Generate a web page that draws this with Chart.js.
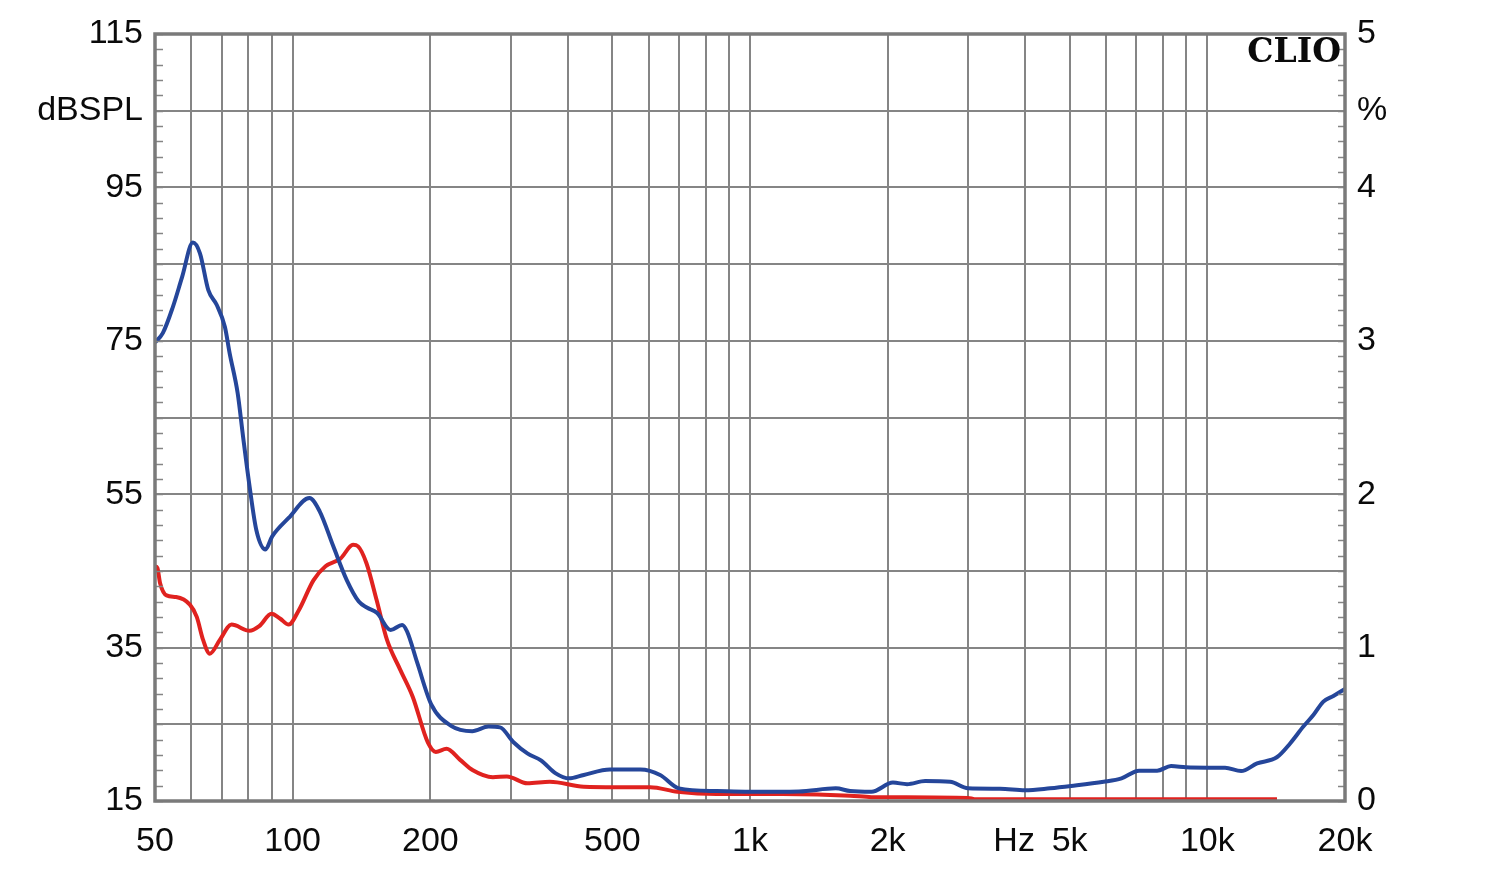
<!DOCTYPE html>
<html><head><meta charset="utf-8">
<script src="https://cdn.jsdelivr.net/npm/chart.js@4"></script>
<style>html,body{margin:0;padding:0;background:#fff;}</style>
</head><body>
<canvas id="c" width="1500" height="870"></canvas>
<script>
// ---- axis ticks / labels ----
const freqTicks = [50,60,70,80,90,100,200,300,400,500,600,700,800,900,1000,2000,3000,4000,5000,6000,7000,8000,9000,10000,20000];
const freqLabels = {50:'50',100:'100',200:'200',500:'500',1000:'1k',2000:'2k',5000:'5k',10000:'10k',20000:'20k'};
const hzLabelFreq = 3780;
const splTicks = [15,25,35,45,55,65,75,85,95,105,115];
const splLabels = {15:'15',35:'35',55:'55',75:'75',95:'95',105:'dBSPL',115:'115'};
const pctTicks = [0,0.5,1,1.5,2,2.5,3,3.5,4,4.5,5];
const pctLabels = {0:'0',1:'1',2:'2',3:'3',4:'4',4.5:'%',5:'5'};

// ---- series: SPL (blue, dB) ----
const splFreq = [50,52,54.7,57.3,60.5,62.7,65.4,68.2,71.1,72.8,75.8,77.9,80.5,83.3,87.2,90.2,98,108.8,114.5,122.7,131.3,139.5,145.6,153,163.7,173.5,177.9,187.3,200.9,222,247,268,284,303.6,326,349,376,402,433,494,576,636,699,846,997,1280,1540,1655,1843,2054,2205,2415,2739,2997,3521,3994,4530,5036,5933,6491,7090,7765,8330,8973,9990,10935,11855,12845,14190,15170,16215,17055,17935,18865,20000];
const splValues = [74.8,76.0,79.4,83.3,87.8,86.4,81.6,79.7,76.8,73.4,68.2,62.5,56.0,50.3,47.8,49.5,51.9,54.5,52.8,48.2,43.8,41.0,40.2,39.5,37.3,37.95,37.1,33.0,27.6,24.8,24.1,24.7,24.6,22.7,21.2,20.3,18.6,17.95,18.4,19.1,19.1,18.4,16.65,16.3,16.2,16.25,16.65,16.3,16.2,17.4,17.2,17.6,17.5,16.65,16.6,16.4,16.65,16.95,17.5,17.95,18.95,18.95,19.55,19.4,19.35,19.35,18.9,19.9,20.7,22.5,24.7,26.2,27.95,28.7,29.6];

// ---- series: THD (red, %) ----
const thdFreq = [50,50.6,51.3,53,55.6,59.6,61.7,63.7,65.9,69.3,73.5,80.5,84.5,89.9,93.8,98,103,111.1,118,127.2,135.5,139,145,152.6,160.8,171.6,183,197.6,205.6,217,232,247.8,274,294,326,365,433,509,605,694,846,1178,1656,1843,2997,3100,14200];
const thdValues = [1.53,1.52,1.42,1.34,1.33,1.28,1.20,1.05,0.96,1.05,1.15,1.11,1.14,1.22,1.19,1.15,1.24,1.44,1.53,1.58,1.67,1.66,1.55,1.31,1.05,0.86,0.68,0.38,0.32,0.34,0.27,0.20,0.155,0.16,0.115,0.125,0.093,0.09,0.09,0.06,0.045,0.045,0.035,0.025,0.02,0.012,0.012];

const gridColor = '#858585';
const textColor = '#0a0a0a';
const labelFont = {family:'"Liberation Sans", Arial, sans-serif', size:34};

const framePlugin = {
  id:'frame',
  afterDatasetsDraw(chart){
    const ctx = chart.ctx, a = chart.chartArea;
    const y = chart.scales.y, y2 = chart.scales.y2;
    ctx.save();
    ctx.strokeStyle = gridColor; ctx.lineWidth = 1.5;
    // minor ticks every 2 dB on left, every 0.1 % on right
    for (let v = 15; v <= 115; v += 2) {
      const py = Math.round(y.getPixelForValue(v)) + 0.5;
      ctx.beginPath(); ctx.moveTo(a.left, py); ctx.lineTo(a.left + 8, py); ctx.stroke();
    }
    for (let i = 0; i <= 50; i++) {
      const py = Math.round(y2.getPixelForValue(i / 10)) + 0.5;
      ctx.beginPath(); ctx.moveTo(a.right, py); ctx.lineTo(a.right - 7, py); ctx.stroke();
    }
    ctx.strokeStyle = '#7a7a7a'; ctx.lineWidth = 3.5;
    ctx.strokeRect(a.left, a.top, a.right - a.left, a.bottom - a.top);
    // CLIO logo
    ctx.fillStyle = '#0a0a0a';
    ctx.font = 'bold 33px "DejaVu Serif", "Liberation Serif", serif';
    ctx.textAlign = 'right'; ctx.textBaseline = 'middle';
    ctx.fillText('CLIO', a.right - 4, a.top + 19);
    ctx.restore();
  }
};

new Chart(document.getElementById('c'), {
  type:'line',
  data:{
    datasets:[
      { label:'SPL', yAxisID:'y', data: splFreq.map((f,i)=>({x:f,y:splValues[i]})),
        borderColor:'#25469a', borderWidth:4, pointRadius:0, tension:0.35, cubicInterpolationMode:'monotone', fill:false },
      { label:'THD', yAxisID:'y2', data: thdFreq.map((f,i)=>({x:f,y:thdValues[i]})),
        borderColor:'#e0221f', borderWidth:4, pointRadius:0, tension:0.35, cubicInterpolationMode:'monotone', fill:false }
    ]
  },
  options:{
    responsive:false, animation:false, devicePixelRatio:1,
    layout:{padding:{top:34,left:0,right:0,bottom:0}},
    plugins:{legend:{display:false}, tooltip:{enabled:false}},
    scales:{
      x:{
        type:'logarithmic', min:50, max:20000,
        afterBuildTicks(s){ s.ticks = [...freqTicks, hzLabelFreq].sort((p,q)=>p-q).map(v=>({value:v})); },
        afterFit(s){ s.height = 69; },
        ticks:{ autoSkip:false, maxRotation:0, minRotation:0, padding:20, color:textColor, font:labelFont,
          callback(v){ if (v === hzLabelFreq) return 'Hz'; return freqLabels[v] || ''; } },
        grid:{ drawTicks:false, lineWidth:2, color(ctx){ return (ctx.tick && ctx.tick.value === hzLabelFreq) ? 'rgba(0,0,0,0)' : gridColor; } },
        border:{display:false}
      },
      y:{
        type:'linear', position:'left', min:15, max:115,
        afterBuildTicks(s){ s.ticks = splTicks.map(v=>({value:v})); },
        afterFit(s){ s.width = 155; },
        ticks:{ padding:12, color:textColor, font:labelFont, callback(v){ return splLabels[v] || ''; } },
        grid:{ drawTicks:false, lineWidth:2, color:gridColor },
        border:{display:false}
      },
      y2:{
        type:'linear', position:'right', min:0, max:5,
        afterBuildTicks(s){ s.ticks = pctTicks.map(v=>({value:v})); },
        afterFit(s){ s.width = 155; },
        ticks:{ padding:12, color:textColor, font:labelFont, callback(v){ return pctLabels[v] || ''; } },
        grid:{ display:false, drawTicks:false },
        border:{display:false}
      }
    }
  },
  plugins:[framePlugin]
});
</script>
</body></html>
